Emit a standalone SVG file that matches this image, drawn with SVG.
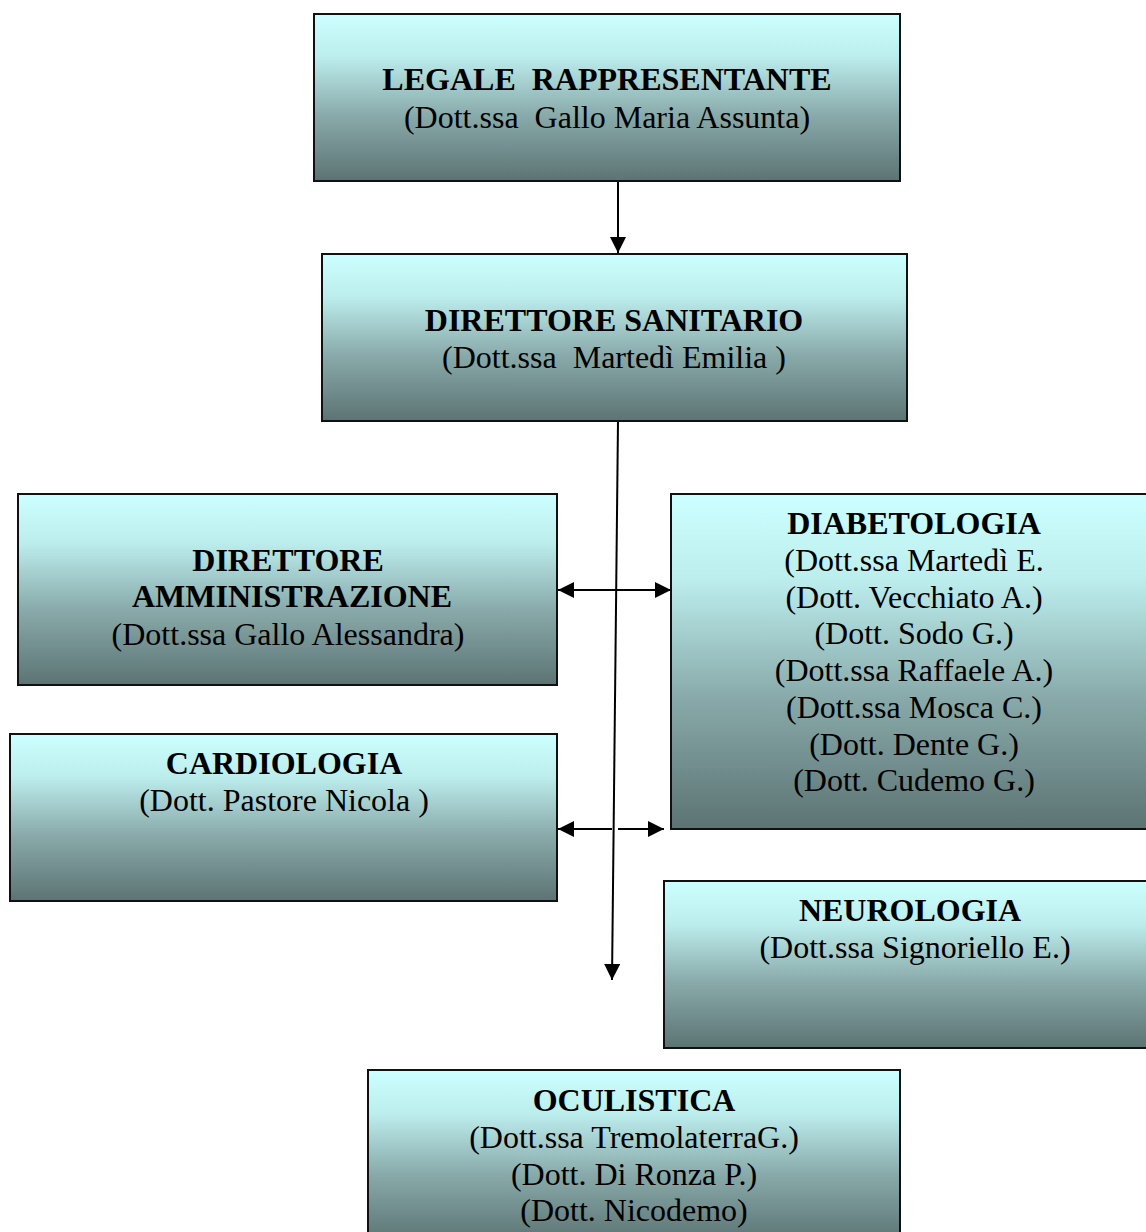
<svg xmlns="http://www.w3.org/2000/svg" width="1146" height="1232" viewBox="0 0 1146 1232">
<defs>
<linearGradient id="g" x1="0" y1="0" x2="0" y2="1">
<stop offset="0" stop-color="#ccffff"/>
<stop offset="0.25" stop-color="#bdeeee"/>
<stop offset="0.6" stop-color="#8aabab"/>
<stop offset="1" stop-color="#5c7373"/>
</linearGradient>
<marker id="ah" viewBox="0 0 16 16" refX="16" refY="8" markerWidth="16" markerHeight="16" markerUnits="userSpaceOnUse" orient="auto">
<path d="M0,0 L16,8 L0,16 Z" fill="#000"/>
</marker>
</defs>
<style>
.box{fill:url(#g);stroke:#111;stroke-width:2}
text{font-family:"Liberation Serif","Times New Roman",serif;font-size:32px;fill:#000;text-anchor:middle}
.b{font-weight:bold}
.c{stroke:#000;stroke-width:2;fill:none}
</style>
<rect width="1146" height="1232" fill="#fff"/>
<g id="connectors">
<line class="c" x1="618" y1="181" x2="618" y2="253" marker-end="url(#ah)"/>
<line class="c" x1="618" y1="421" x2="612" y2="980" marker-end="url(#ah)"/>
<line class="c" x1="614" y1="590" x2="558" y2="590" marker-end="url(#ah)"/>
<line class="c" x1="614" y1="590" x2="671" y2="590" marker-end="url(#ah)"/>
<line class="c" x1="612" y1="829" x2="558" y2="829" marker-end="url(#ah)"/>
<line class="c" x1="618" y1="829" x2="664" y2="829" marker-end="url(#ah)"/>
</g>
<g id="legale">
<rect class="box" x="314" y="14" width="586" height="167"/>
<text class="b" x="607" y="90" xml:space="preserve">LEGALE  RAPPRESENTANTE</text>
<text x="607" y="128" xml:space="preserve">(Dott.ssa  Gallo Maria Assunta)</text>
</g>
<g id="direttore-sanitario">
<rect class="box" x="322" y="254" width="585" height="167"/>
<text class="b" x="614" y="331">DIRETTORE SANITARIO</text>
<text x="614" y="368" xml:space="preserve">(Dott.ssa  Martedì Emilia )</text>
</g>
<g id="direttore-amministrazione">
<rect class="box" x="18" y="494" width="539" height="191"/>
<text class="b" x="288" y="571">DIRETTORE</text>
<text class="b" x="292" y="607">AMMINISTRAZIONE</text>
<text x="288" y="645">(Dott.ssa Gallo Alessandra)</text>
</g>
<g id="diabetologia">
<rect class="box" x="671" y="494" width="490" height="335"/>
<text class="b" x="914" y="534">DIABETOLOGIA</text>
<text x="914" y="571">(Dott.ssa Martedì E.</text>
<text x="914" y="608">(Dott. Vecchiato A.)</text>
<text x="914" y="644">(Dott. Sodo G.)</text>
<text x="914" y="681">(Dott.ssa Raffaele A.)</text>
<text x="914" y="718">(Dott.ssa Mosca C.)</text>
<text x="914" y="755">(Dott. Dente G.)</text>
<text x="914" y="791">(Dott. Cudemo G.)</text>
</g>
<g id="cardiologia">
<rect class="box" x="10" y="734" width="547" height="167"/>
<text class="b" x="284" y="774">CARDIOLOGIA</text>
<text x="284" y="811">(Dott. Pastore Nicola )</text>
</g>
<g id="neurologia">
<rect class="box" x="664" y="881" width="496" height="167"/>
<text class="b" x="910" y="921">NEUROLOGIA</text>
<text x="915" y="958">(Dott.ssa Signoriello E.)</text>
</g>
<g id="oculistica">
<rect class="box" x="368" y="1070" width="532" height="172"/>
<text class="b" x="634" y="1111">OCULISTICA</text>
<text x="634" y="1148">(Dott.ssa TremolaterraG.)</text>
<text x="634" y="1185">(Dott. Di Ronza P.)</text>
<text x="634" y="1221">(Dott. Nicodemo)</text>
</g>
</svg>
